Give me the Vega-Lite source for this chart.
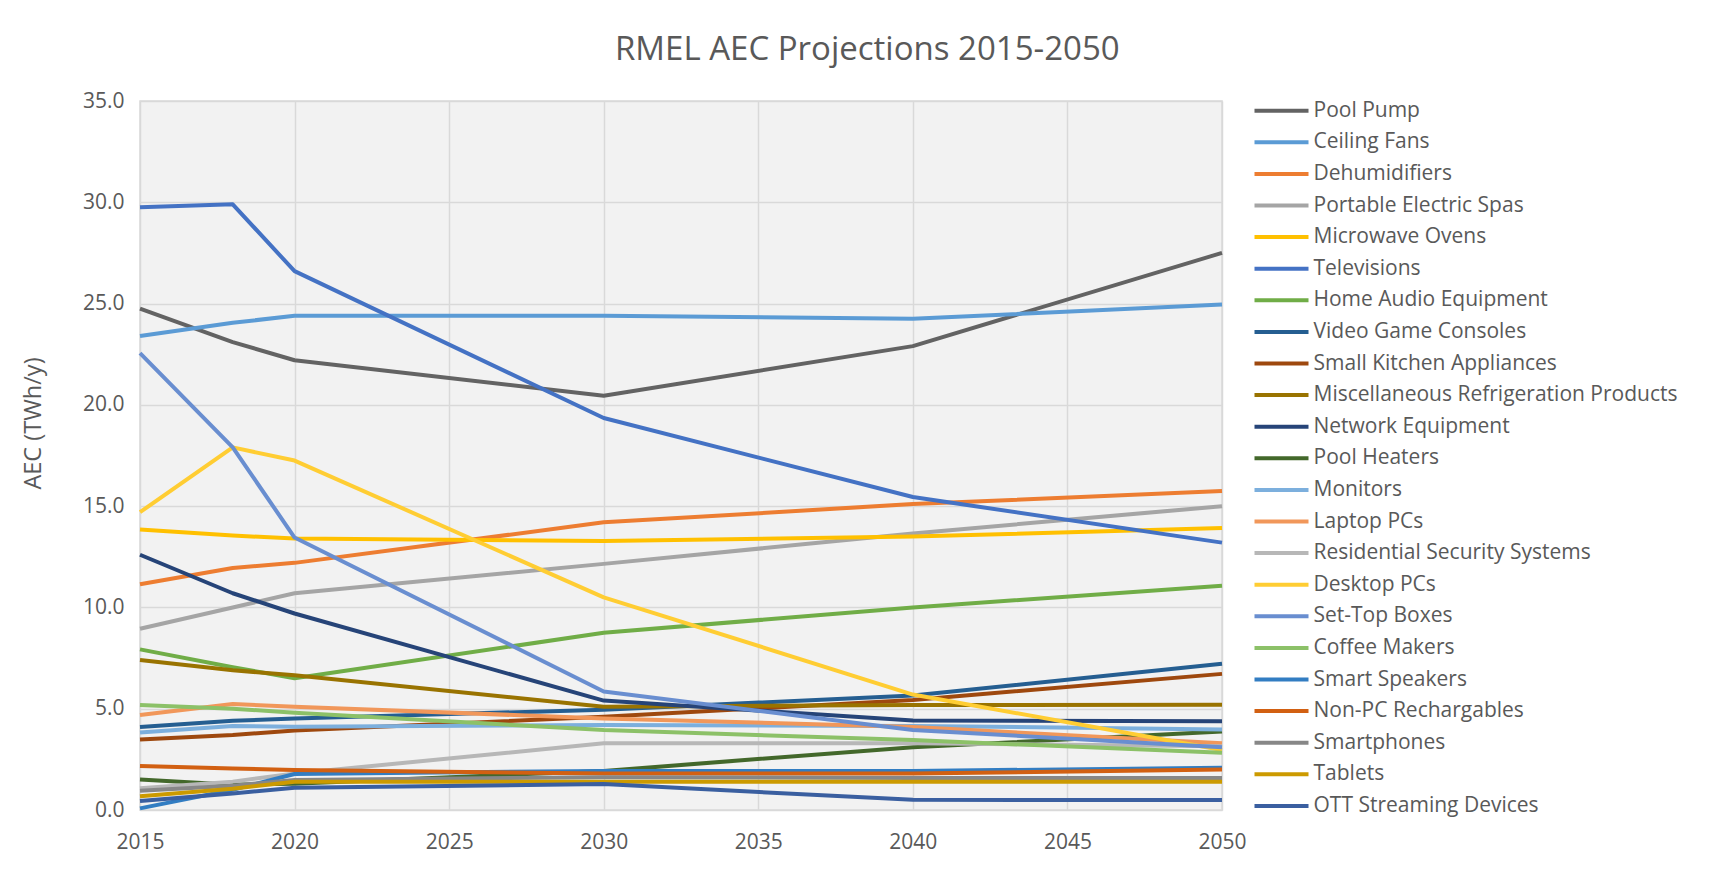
{
  "$schema": "https://vega.github.io/schema/vega-lite/v6.json",
  "autosize": {"type": "none"},
  "width": 1082,
  "height": 709,
  "padding": {"left": 140, "top": 101, "right": 513, "bottom": 59},
  "background": "white",
  "title": {
    "text": "RMEL AEC Projections 2015-2050",
    "font": "Open Sans",
    "fontSize": 33,
    "fontWeight": "normal",
    "color": "#595959",
    "anchor": "start",
    "frame": "group",
    "dx": 475,
    "offset": 23
  },
  "config": {
    "view": {"fill": "#F2F2F2", "stroke": "#D9D9D9", "strokeWidth": 1.5},
    "axis": {
      "labelFont": "Open Sans",
      "labelFontSize": 21,
      "labelColor": "#595959",
      "titleFont": "Open Sans",
      "titleFontSize": 23.5,
      "titleFontWeight": "normal",
      "titleColor": "#595959",
      "gridColor": "#D9D9D9",
      "gridWidth": 1.5,
      "ticks": false,
      "domain": false
    },
    "legend": {
      "labelFont": "Open Sans",
      "labelFontSize": 21,
      "labelColor": "#595959",
      "labelLimit": 500
    }
  },
  "data": {
    "values": [
      {"s": "Pool Pump", "year": 2015, "v": 24.75}, {"s": "Pool Pump", "year": 2018, "v": 23.1}, {"s": "Pool Pump", "year": 2020, "v": 22.2}, {"s": "Pool Pump", "year": 2030, "v": 20.45}, {"s": "Pool Pump", "year": 2040, "v": 22.9}, {"s": "Pool Pump", "year": 2050, "v": 27.5},
      {"s": "Ceiling Fans", "year": 2015, "v": 23.4}, {"s": "Ceiling Fans", "year": 2018, "v": 24.05}, {"s": "Ceiling Fans", "year": 2020, "v": 24.4}, {"s": "Ceiling Fans", "year": 2030, "v": 24.4}, {"s": "Ceiling Fans", "year": 2040, "v": 24.25}, {"s": "Ceiling Fans", "year": 2050, "v": 24.95},
      {"s": "Dehumidifiers", "year": 2015, "v": 11.14}, {"s": "Dehumidifiers", "year": 2018, "v": 11.95}, {"s": "Dehumidifiers", "year": 2020, "v": 12.2}, {"s": "Dehumidifiers", "year": 2030, "v": 14.2}, {"s": "Dehumidifiers", "year": 2040, "v": 15.1}, {"s": "Dehumidifiers", "year": 2050, "v": 15.75},
      {"s": "Portable Electric Spas", "year": 2015, "v": 8.95}, {"s": "Portable Electric Spas", "year": 2018, "v": 10.0}, {"s": "Portable Electric Spas", "year": 2020, "v": 10.7}, {"s": "Portable Electric Spas", "year": 2030, "v": 12.15}, {"s": "Portable Electric Spas", "year": 2040, "v": 13.65}, {"s": "Portable Electric Spas", "year": 2050, "v": 15.0},
      {"s": "Microwave Ovens", "year": 2015, "v": 13.85}, {"s": "Microwave Ovens", "year": 2018, "v": 13.55}, {"s": "Microwave Ovens", "year": 2020, "v": 13.4}, {"s": "Microwave Ovens", "year": 2030, "v": 13.28}, {"s": "Microwave Ovens", "year": 2040, "v": 13.5}, {"s": "Microwave Ovens", "year": 2050, "v": 13.92},
      {"s": "Televisions", "year": 2015, "v": 29.75}, {"s": "Televisions", "year": 2018, "v": 29.9}, {"s": "Televisions", "year": 2020, "v": 26.6}, {"s": "Televisions", "year": 2030, "v": 19.35}, {"s": "Televisions", "year": 2040, "v": 15.45}, {"s": "Televisions", "year": 2050, "v": 13.2},
      {"s": "Home Audio Equipment", "year": 2015, "v": 7.93}, {"s": "Home Audio Equipment", "year": 2018, "v": 7.05}, {"s": "Home Audio Equipment", "year": 2020, "v": 6.5}, {"s": "Home Audio Equipment", "year": 2030, "v": 8.75}, {"s": "Home Audio Equipment", "year": 2040, "v": 10.0}, {"s": "Home Audio Equipment", "year": 2050, "v": 11.07},
      {"s": "Video Game Consoles", "year": 2015, "v": 4.1}, {"s": "Video Game Consoles", "year": 2018, "v": 4.4}, {"s": "Video Game Consoles", "year": 2020, "v": 4.52}, {"s": "Video Game Consoles", "year": 2030, "v": 4.95}, {"s": "Video Game Consoles", "year": 2040, "v": 5.65}, {"s": "Video Game Consoles", "year": 2050, "v": 7.22},
      {"s": "Small Kitchen Appliances", "year": 2015, "v": 3.48}, {"s": "Small Kitchen Appliances", "year": 2018, "v": 3.7}, {"s": "Small Kitchen Appliances", "year": 2020, "v": 3.93}, {"s": "Small Kitchen Appliances", "year": 2030, "v": 4.6}, {"s": "Small Kitchen Appliances", "year": 2040, "v": 5.43}, {"s": "Small Kitchen Appliances", "year": 2050, "v": 6.72},
      {"s": "Miscellaneous Refrigeration Products", "year": 2015, "v": 7.4}, {"s": "Miscellaneous Refrigeration Products", "year": 2018, "v": 6.9}, {"s": "Miscellaneous Refrigeration Products", "year": 2020, "v": 6.65}, {"s": "Miscellaneous Refrigeration Products", "year": 2030, "v": 5.1}, {"s": "Miscellaneous Refrigeration Products", "year": 2040, "v": 5.18}, {"s": "Miscellaneous Refrigeration Products", "year": 2050, "v": 5.2},
      {"s": "Network Equipment", "year": 2015, "v": 12.6}, {"s": "Network Equipment", "year": 2018, "v": 10.7}, {"s": "Network Equipment", "year": 2020, "v": 9.7}, {"s": "Network Equipment", "year": 2030, "v": 5.4}, {"s": "Network Equipment", "year": 2040, "v": 4.42}, {"s": "Network Equipment", "year": 2050, "v": 4.38},
      {"s": "Pool Heaters", "year": 2015, "v": 1.5}, {"s": "Pool Heaters", "year": 2018, "v": 1.25}, {"s": "Pool Heaters", "year": 2020, "v": 1.3}, {"s": "Pool Heaters", "year": 2030, "v": 1.93}, {"s": "Pool Heaters", "year": 2040, "v": 3.1}, {"s": "Pool Heaters", "year": 2050, "v": 3.87},
      {"s": "Monitors", "year": 2015, "v": 3.82}, {"s": "Monitors", "year": 2018, "v": 4.15}, {"s": "Monitors", "year": 2020, "v": 4.11}, {"s": "Monitors", "year": 2030, "v": 4.2}, {"s": "Monitors", "year": 2040, "v": 4.15}, {"s": "Monitors", "year": 2050, "v": 3.98},
      {"s": "Laptop PCs", "year": 2015, "v": 4.69}, {"s": "Laptop PCs", "year": 2018, "v": 5.23}, {"s": "Laptop PCs", "year": 2020, "v": 5.1}, {"s": "Laptop PCs", "year": 2030, "v": 4.52}, {"s": "Laptop PCs", "year": 2040, "v": 4.1}, {"s": "Laptop PCs", "year": 2050, "v": 3.29},
      {"s": "Residential Security Systems", "year": 2015, "v": 1.07}, {"s": "Residential Security Systems", "year": 2018, "v": 1.4}, {"s": "Residential Security Systems", "year": 2020, "v": 1.8}, {"s": "Residential Security Systems", "year": 2030, "v": 3.29}, {"s": "Residential Security Systems", "year": 2040, "v": 3.3}, {"s": "Residential Security Systems", "year": 2050, "v": 3.15},
      {"s": "Desktop PCs", "year": 2015, "v": 14.7}, {"s": "Desktop PCs", "year": 2018, "v": 17.9}, {"s": "Desktop PCs", "year": 2020, "v": 17.25}, {"s": "Desktop PCs", "year": 2030, "v": 10.5}, {"s": "Desktop PCs", "year": 2040, "v": 5.7}, {"s": "Desktop PCs", "year": 2050, "v": 2.96},
      {"s": "Set-Top Boxes", "year": 2015, "v": 22.55}, {"s": "Set-Top Boxes", "year": 2018, "v": 17.9}, {"s": "Set-Top Boxes", "year": 2020, "v": 13.45}, {"s": "Set-Top Boxes", "year": 2030, "v": 5.85}, {"s": "Set-Top Boxes", "year": 2040, "v": 3.95}, {"s": "Set-Top Boxes", "year": 2050, "v": 3.1},
      {"s": "Coffee Makers", "year": 2015, "v": 5.18}, {"s": "Coffee Makers", "year": 2018, "v": 5.0}, {"s": "Coffee Makers", "year": 2020, "v": 4.8}, {"s": "Coffee Makers", "year": 2030, "v": 3.95}, {"s": "Coffee Makers", "year": 2040, "v": 3.45}, {"s": "Coffee Makers", "year": 2050, "v": 2.83},
      {"s": "Smart Speakers", "year": 2015, "v": 0.08}, {"s": "Smart Speakers", "year": 2018, "v": 1.0}, {"s": "Smart Speakers", "year": 2020, "v": 1.78}, {"s": "Smart Speakers", "year": 2030, "v": 1.93}, {"s": "Smart Speakers", "year": 2040, "v": 1.93}, {"s": "Smart Speakers", "year": 2050, "v": 2.08},
      {"s": "Non-PC Rechargables", "year": 2015, "v": 2.17}, {"s": "Non-PC Rechargables", "year": 2018, "v": 2.05}, {"s": "Non-PC Rechargables", "year": 2020, "v": 1.97}, {"s": "Non-PC Rechargables", "year": 2030, "v": 1.8}, {"s": "Non-PC Rechargables", "year": 2040, "v": 1.8}, {"s": "Non-PC Rechargables", "year": 2050, "v": 2.0},
      {"s": "Smartphones", "year": 2015, "v": 0.95}, {"s": "Smartphones", "year": 2018, "v": 1.2}, {"s": "Smartphones", "year": 2020, "v": 1.48}, {"s": "Smartphones", "year": 2030, "v": 1.62}, {"s": "Smartphones", "year": 2040, "v": 1.58}, {"s": "Smartphones", "year": 2050, "v": 1.58},
      {"s": "Tablets", "year": 2015, "v": 0.68}, {"s": "Tablets", "year": 2018, "v": 1.05}, {"s": "Tablets", "year": 2020, "v": 1.4}, {"s": "Tablets", "year": 2030, "v": 1.4}, {"s": "Tablets", "year": 2040, "v": 1.4}, {"s": "Tablets", "year": 2050, "v": 1.4},
      {"s": "OTT Streaming Devices", "year": 2015, "v": 0.44}, {"s": "OTT Streaming Devices", "year": 2018, "v": 0.82}, {"s": "OTT Streaming Devices", "year": 2020, "v": 1.1}, {"s": "OTT Streaming Devices", "year": 2030, "v": 1.28}, {"s": "OTT Streaming Devices", "year": 2040, "v": 0.5}, {"s": "OTT Streaming Devices", "year": 2050, "v": 0.49}
    ]
  },
  "mark": {"type": "line", "strokeWidth": 4, "strokeJoin": "round"},
  "encoding": {
    "x": {
      "field": "year",
      "type": "quantitative",
      "scale": {"domain": [2015, 2050], "nice": false, "zero": false},
      "axis": {"values": [2015, 2020, 2025, 2030, 2035, 2040, 2045, 2050], "format": "d", "title": null, "labelPadding": 21, "labelFlush": false}
    },
    "y": {
      "field": "v",
      "type": "quantitative",
      "scale": {"domain": [0, 35], "nice": false},
      "axis": {"values": [0, 5, 10, 15, 20, 25, 30, 35], "format": ".1f", "title": "AEC (TWh/y)", "labelPadding": 16, "titleX": -95, "titleY": 322, "titleAngle": -90, "titleAlign": "center", "titleBaseline": "bottom"}
    },
    "color": {
      "field": "s",
      "type": "nominal",
      "scale": {
        "domain": ["Pool Pump", "Ceiling Fans", "Dehumidifiers", "Portable Electric Spas", "Microwave Ovens", "Televisions", "Home Audio Equipment", "Video Game Consoles", "Small Kitchen Appliances", "Miscellaneous Refrigeration Products", "Network Equipment", "Pool Heaters", "Monitors", "Laptop PCs", "Residential Security Systems", "Desktop PCs", "Set-Top Boxes", "Coffee Makers", "Smart Speakers", "Non-PC Rechargables", "Smartphones", "Tablets", "OTT Streaming Devices"],
        "range": ["#636363", "#5B9BD5", "#ED7D31", "#A5A5A5", "#FFC000", "#4472C4", "#70AD47", "#255E91", "#9E480E", "#997300", "#264478", "#43682B", "#7CAFDD", "#F1975A", "#B7B7B7", "#FFCD33", "#698ED0", "#8CC168", "#327DC2", "#D26012", "#878787", "#CC9A00", "#3A5FA0"]
      },
      "legend": {
        "title": null,
        "orient": "none",
        "legendX": 1126,
        "legendY": -5.8,
        "symbolType": "M-2,0H2",
        "symbolSize": 729,
        "symbolStrokeWidth": 4,
        "symbolFillColor": "transparent",
        "labelOffset": 16.5,
        "rowPadding": 5.6
      }
    }
  }
}
